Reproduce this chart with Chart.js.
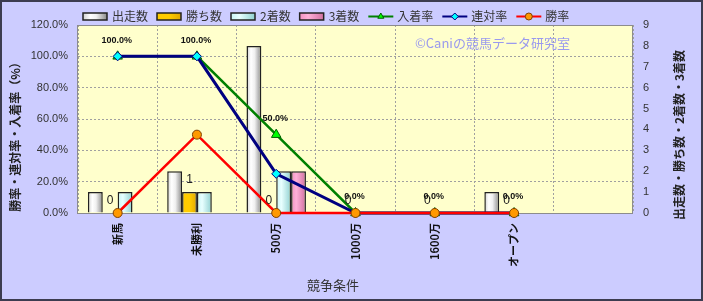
<!DOCTYPE html>
<html>
<head>
<meta charset="utf-8">
<script src="https://cdn.jsdelivr.net/npm/chart.js@4/dist/chart.umd.min.js"></script>
<style>
  html, body { margin: 0; padding: 0; background: #ccccff; }
  #wrap { width: 703px; height: 301px; position: relative; box-sizing: border-box; }
</style>
</head>
<body>
<div id="wrap"><canvas id="myChart" width="703" height="301"></canvas></div>
<script>
// データ
const categories = ['新馬', '未勝利', '500万', '1000万', '1600万', 'オープン', ''];
const runs = [1, 2, 8, 0, 0, 1, null];        // 出走数
const wins = [0, 1, 0, 0, 0, 0, null];        // 勝ち数
const seconds = [1, 1, 2, 0, 0, 0, null];     // 2着数
const thirds = [0, 0, 2, 0, 0, 0, null];      // 3着数
const placeRate = [100, 100, 50, 0, 0, 0, null];    // 入着率
const quinellaRate = [100, 100, 25, 0, 0, 0, null]; // 連対率
const winRate = [0, 50, 0, 0, 0, 0, null];          // 勝率
const leftTicks = [0, 20, 40, 60, 80, 100, 120];
const rightTicks = [0, 1, 2, 3, 4, 5, 6, 7, 8, 9];

const JP = "'Noto Sans CJK JP', sans-serif";
const NUM = "'Liberation Sans', Arial, sans-serif";

// 棒グラフのグラデーション（円柱っぽく）
function barFill(stops, fallback) {
    return function(ctx) {
        const chart = ctx.chart;
        const xs = chart.scales.x;
        if (!chart.chartArea || !xs || ctx.type !== 'data') return fallback;
        const catW = xs.width / categories.length;
        const barW = catW * 0.75 / 4;
        const left = xs.getPixelForValue(ctx.dataIndex) + (ctx.datasetIndex - 2) * barW;
        if (!isFinite(left)) return fallback;
        const g = chart.ctx.createLinearGradient(left, 0, left + barW, 0);
        stops.forEach(s => g.addColorStop(s[0], s[1]));
        return g;
    };
}

const grayStops = [[0, '#d0d0d0'], [0.3, '#ffffff'], [0.55, '#f0f0f0'], [1, '#8a8a8a']];
const goldStops = [[0, '#ffcc00'], [0.5, '#ffcc00'], [1, '#e0a800']];
const cyanStops = [[0, '#c8f4f4'], [0.35, '#e8ffff'], [1, '#8fd0d0']];
const pinkStops = [[0, '#f090c0'], [0.35, '#ffb0d8'], [1, '#d070a0']];

// プロットエリア・透かし
const backgroundPlugin = {
    id: 'bg',
    beforeDraw(chart) {
        const c = chart.ctx, a = chart.chartArea;
        c.save();
        c.fillStyle = '#ccccff';
        c.fillRect(0, 0, chart.width, chart.height);
        c.fillStyle = '#ffffcc';
        c.fillRect(a.left, a.top, a.right - a.left, a.bottom - a.top);
        c.restore();
    },
    beforeDatasetsDraw(chart) {
        const c = chart.ctx, a = chart.chartArea;
        c.save();
        c.strokeStyle = '#8c8c8c';
        c.lineWidth = 1;
        c.strokeRect(a.left - 0.5, a.top + 0.5, a.right - a.left, a.bottom - a.top);
        c.font = '13px ' + JP;
        c.fillStyle = '#9a9aee';
        c.textAlign = 'left';
        c.textBaseline = 'middle';
        c.fillText('©Caniの競馬データ研究室', 415, 43);
        c.restore();
    },
    afterDraw(chart) {
        const c = chart.ctx;
        c.save();
        // 外枠
        c.strokeStyle = '#3c3c50';
        c.lineWidth = 2;
        c.strokeRect(1, 1, chart.width - 2, chart.height - 2);
        // 軸タイトル
        c.fillStyle = '#222';
        c.textAlign = 'center';
        c.textBaseline = 'middle';
        c.font = 'bold 12px ' + JP;
        c.translate(15, 134);
        c.rotate(-Math.PI / 2);
        c.fillText('勝率・連対率・入着率（%）', 0, 0);
        c.setTransform(1, 0, 0, 1, 0, 0);
        c.translate(679, 135);
        c.rotate(-Math.PI / 2);
        c.fillText('出走数・勝ち数・2着数・3着数', 0, 0);
        c.setTransform(1, 0, 0, 1, 0, 0);
        c.font = '13px ' + JP;
        c.fillStyle = '#333';
        c.fillText('競争条件', 333, 285);
        c.restore();
    }
};

// 凡例（自前で描く）
const legendPlugin = {
    id: 'customLegend',
    afterDraw(chart) {
        const c = chart.ctx;
        let x = 83;
        const y = 16.5;
        c.save();
        c.font = '12px ' + JP;
        c.textBaseline = 'middle';
        c.textAlign = 'left';
        chart.data.datasets.forEach((ds, i) => {
            if (ds.type === 'bar') {
                const g = c.createLinearGradient(x, 0, x + 24, 0);
                ds.legendStops.forEach(s => g.addColorStop(s[0], s[1]));
                c.fillStyle = g;
                c.fillRect(x, y - 3.5, 24, 7);
                c.strokeStyle = '#222';
                c.lineWidth = 1.5;
                c.strokeRect(x, y - 3.5, 24, 7);
            } else {
                c.strokeStyle = ds.borderColor;
                c.lineWidth = 2;
                c.beginPath();
                c.moveTo(x, y);
                c.lineTo(x + 25, y);
                c.stroke();
                c.fillStyle = ds.pointBackgroundColor;
                c.strokeStyle = ds.pointBorderColor;
                c.lineWidth = 1;
                Chart.helpers.drawPoint(c, { pointStyle: ds.pointStyle, radius: 3.5, borderWidth: 1, rotation: 0 }, x + 12.5, y);
            }
            x += 29;
            c.fillStyle = '#333';
            c.fillText(ds.label, x, y);
            x += c.measureText(ds.label).width + 9;
        });
        c.restore();
    }
};

// データラベル
const labelPlugin = {
    id: 'labels',
    afterDatasetsDraw(chart) {
        const c = chart.ctx;
        c.save();
        c.textAlign = 'center';
        c.textBaseline = 'middle';
        // 勝ち数
        const winMeta = chart.getDatasetMeta(1);
        c.font = '12px ' + NUM;
        c.fillStyle = '#222';
        winMeta.data.forEach((el, i) => {
            if (wins[i] === null) return;
            c.fillText(String(wins[i]), el.x, el.y - 12);
        });
        // 入着率
        const rateMeta = chart.getDatasetMeta(4);
        c.font = 'bold 9px ' + NUM;
        c.fillStyle = '#111';
        rateMeta.data.forEach((el, i) => {
            if (placeRate[i] === null) return;
            c.fillText(placeRate[i].toFixed(1) + '%', el.x - 1, el.y - 16);
        });
        c.restore();
    }
};

let myChart;

document.addEventListener('DOMContentLoaded', function() {
    const ctx = document.getElementById('myChart').getContext('2d');

    const barCommon = {
        type: 'bar',
        yAxisID: 'y1',
        borderColor: '#222',
        borderWidth: 1.5,
        categoryPercentage: 0.75,
        barPercentage: 1,
        order: 10
    };
    const lineCommon = {
        type: 'line',
        yAxisID: 'y',
        fill: false,
        tension: 0,
        clip: 8,
        pointBorderWidth: 1
    };

    myChart = new Chart(ctx, {
        data: {
            labels: categories,
            datasets: [
                Object.assign({}, barCommon, { label: '出走数', data: runs, backgroundColor: barFill(grayStops, '#e0e0e0'), legendStops: grayStops }),
                Object.assign({}, barCommon, { label: '勝ち数', data: wins, backgroundColor: barFill(goldStops, '#ffcc00'), legendStops: goldStops }),
                Object.assign({}, barCommon, { label: '2着数', data: seconds, backgroundColor: barFill(cyanStops, '#ccffff'), legendStops: cyanStops }),
                Object.assign({}, barCommon, { label: '3着数', data: thirds, backgroundColor: barFill(pinkStops, '#ff99cc'), legendStops: pinkStops }),
                Object.assign({}, lineCommon, {
                    label: '入着率', data: placeRate, borderColor: '#008000', borderWidth: 2.5,
                    pointStyle: 'triangle', pointRadius: 5.5, pointBackgroundColor: '#00ff00', pointBorderColor: '#006000', order: 3
                }),
                Object.assign({}, lineCommon, {
                    label: '連対率', data: quinellaRate, borderColor: '#000080', borderWidth: 3,
                    pointStyle: 'rectRot', pointRadius: 4.5, pointBackgroundColor: '#00ffff', pointBorderColor: '#000080', order: 2
                }),
                Object.assign({}, lineCommon, {
                    label: '勝率', data: winRate, borderColor: '#ff0000', borderWidth: 2.5,
                    pointStyle: 'circle', pointRadius: 4.5, pointBackgroundColor: '#ff9900', pointBorderColor: '#804000', order: 1
                })
            ]
        },
        options: {
            responsive: false,
            animation: false,
            layout: { padding: { top: 25, left: 0, right: 0, bottom: 0 } },
            plugins: {
                legend: { display: false },
                tooltip: { enabled: false }
            },
            scales: {
                x: {
                    offset: true,
                    grid: { offset: true, color: '#a0a0a0', drawTicks: false },
                    border: { display: false, dash: [2, 2] },
                    ticks: {
                        color: '#111',
                        font: { family: JP, size: 11, weight: 'bold' },
                        minRotation: 90,
                        maxRotation: 90,
                        padding: 10,
                        autoSkip: false
                    },
                    afterFit(scale) { scale.height = 88; }
                },
                y: {
                    position: 'left',
                    min: 0,
                    max: 120,
                    afterBuildTicks(scale) { scale.ticks = leftTicks.map(v => ({ value: v })); },
                    grid: { color: '#a0a0a0', drawTicks: false },
                    border: { display: false, dash: [2, 2] },
                    ticks: {
                        color: '#333',
                        font: { family: NUM, size: 11 },
                        padding: 10,
                        callback: v => v.toFixed(1) + '%'
                    },
                    afterFit(scale) { scale.width = 78; }
                },
                y1: {
                    position: 'right',
                    min: 0,
                    max: 9,
                    afterBuildTicks(scale) { scale.ticks = rightTicks.map(v => ({ value: v })); },
                    grid: { drawOnChartArea: false, drawTicks: false },
                    border: { display: false },
                    ticks: {
                        color: '#333',
                        font: { family: NUM, size: 11 },
                        padding: 10
                    },
                    afterFit(scale) { scale.width = 70; }
                }
            }
        },
        plugins: [backgroundPlugin, labelPlugin, legendPlugin]
    });
});
</script>
</body>
</html>
